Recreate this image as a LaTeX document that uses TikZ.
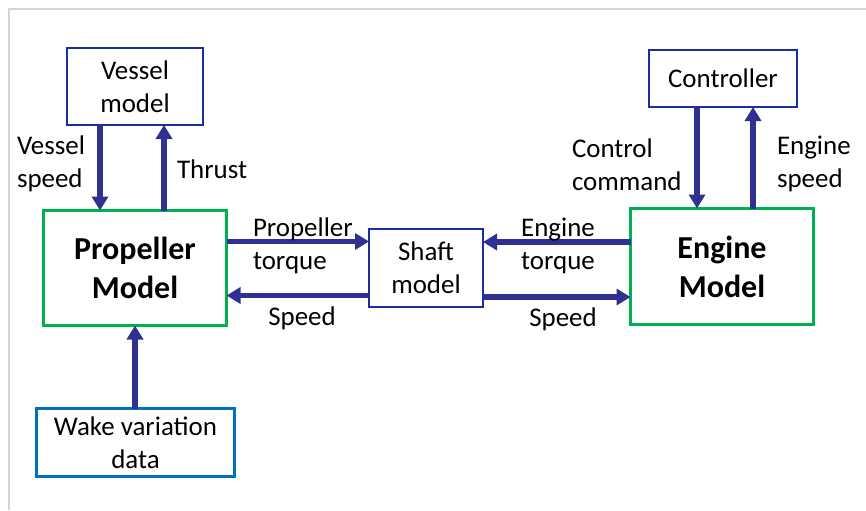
\documentclass[tikz,border=0pt]{standalone}
\usepackage{fontspec}
\setmainfont{Carlito}
\usetikzlibrary{arrows.meta}
\definecolor{boxblue}{HTML}{1A2FA0}
\definecolor{flowblue}{HTML}{2E3192}
\definecolor{wakeblue}{HTML}{0070C0}
\definecolor{modelgreen}{HTML}{00B050}
\definecolor{framegray}{HTML}{D6D6D6}
% one drawing unit
\newdimen\pxu \pxu=0.75pt
\begin{document}
\begin{tikzpicture}[x=0.75pt,y=-0.75pt,
  every node/.style={inner sep=0pt,outer sep=0pt},
  txt/.style={font=\fontsize{20.2pt}{24.75pt}\selectfont,align=center},
  ltxt/.style={font=\fontsize{20.2pt}{24.75pt}\selectfont,align=left},
  subbox/.style={draw=boxblue,line width=2.1pt,fill=white,txt},
  modelbox/.style={draw=modelgreen,line width=2.5pt,fill=white,align=center,
    font=\fontsize{24pt}{29.25pt}\selectfont\bfseries},
  databox/.style={draw=wakeblue,line width=2.9pt,fill=white,txt},
  flow/.style={draw=flowblue,line width=3.8pt,
    -{Triangle[length=10.5pt,width=12pt]},flowblue}]
\useasboundingbox (0,0) rectangle (866,510);
% outer frame (only top and left edges fall inside the page)
\draw[framegray,line width=1.6pt] (866,9) -- (9,9) -- (9,510);

% blocks
\node[subbox,minimum width=136\pxu,minimum height=77\pxu] (vessel) at (135,86.5) {Vessel\\model};
\node[modelbox,minimum width=183\pxu,minimum height=115\pxu] (prop) at (135,268) {Propeller\\Model};
\node[databox,minimum width=198\pxu,minimum height=68\pxu] (wake) at (135.5,442.5) {Wake variation\\data};
\node[subbox,minimum width=114\pxu,minimum height=78\pxu] (shaft) at (426,268) {Shaft\\model};
\node[subbox,minimum width=148\pxu,minimum height=57\pxu] (ctrl) at (723,78.5) {Controller};
\node[modelbox,minimum width=183\pxu,minimum height=116\pxu] (engine) at (722,266.5) {Engine\\Model};

% signal connections
\draw[flow] (vessel.south -| 100,0) -- (prop.north -| 100,0);
\draw[flow] (prop.north -| 164,0) -- (vessel.south -| 164,0);
\draw[flow] (wake.north -| 135,0) -- (prop.south -| 135,0);
\draw[flow] (prop.east |- 0,241.5) -- (shaft.west |- 0,241.5);
\draw[flow] (shaft.west |- 0,295.5) -- (prop.east |- 0,295.5);
\draw[flow] (engine.west |- 0,242) -- (shaft.east |- 0,242);
\draw[flow] (shaft.east |- 0,297) -- (engine.west |- 0,297);
\draw[flow] (ctrl.south -| 697,0) -- (engine.north -| 697,0);
\draw[flow] (engine.north -| 753,0) -- (ctrl.south -| 753,0);

% signal labels
\node[ltxt,anchor=west] (lvs) at (17,164) {Vessel\\speed};
\node[ltxt,anchor=west] (lth) at (177,169) {Thrust};
\node[ltxt,anchor=west] (lpt) at (253,245.5) {Propeller\\torque};
\node[txt] (lsp1) at (302,318) {Speed};
\node[txt] (let) at (558,246) {Engine\\torque};
\node[txt] (lsp2) at (563,319) {Speed};
\node[ltxt,anchor=west] (lcc) at (572,164.5) {Control\\command};
\node[ltxt,anchor=west] (les) at (777,163.5) {Engine\\speed};
\end{tikzpicture}
\end{document}
